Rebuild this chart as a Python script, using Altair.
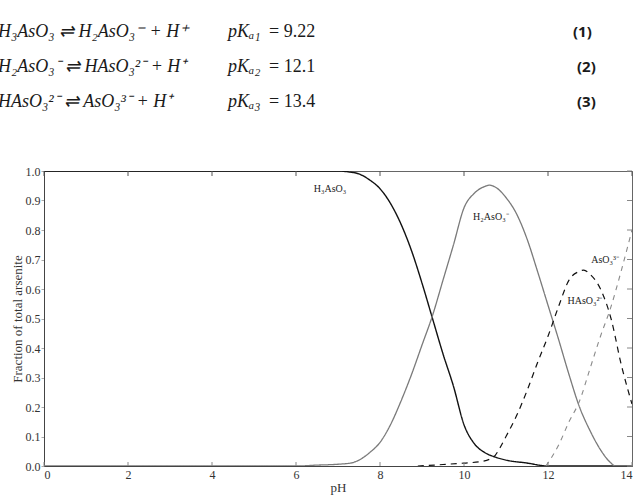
import altair as alt
import pandas as pd

# ---- data ----
h3_ph = [0, 2, 4, 6, 7.0, 7.25, 7.5, 7.75, 8.0, 8.25, 8.5, 8.75, 9.0, 9.25, 9.5, 9.75,
         10.0, 10.25, 10.5, 10.75, 11.0, 11.5, 12.0, 14.0]
h3_f = [1.0, 1.0, 1.0, 1.0, 1.0, 0.997, 0.99, 0.97, 0.94, 0.89, 0.82, 0.73, 0.62, 0.50,
        0.38, 0.27, 0.14, 0.075, 0.045, 0.03, 0.02, 0.01, 0.0, 0.0]

h2_ph = [0, 6.0, 6.5, 7.0, 7.3, 7.5, 7.75, 8.0, 8.25, 8.5, 8.75, 9.0, 9.25, 9.5, 9.75,
         10.0, 10.25, 10.5, 10.6, 10.75, 11.0, 11.25, 11.5, 11.75, 12.0, 12.25, 12.5,
         12.75, 13.0, 13.25, 13.5, 13.6, 14.0]
h2_f = [0, 0, 0.003, 0.006, 0.01, 0.02, 0.045, 0.08, 0.14, 0.22, 0.31, 0.41, 0.51, 0.63,
        0.75, 0.875, 0.925, 0.948, 0.952, 0.945, 0.91, 0.855, 0.77, 0.66, 0.545, 0.43,
        0.31, 0.2, 0.12, 0.055, 0.01, 0.0, 0.0]

has_ph = [8.9, 9.5, 10.0, 10.4, 10.7, 10.85, 11.0, 11.25, 11.5, 11.75, 12.0, 12.25, 12.5,
          12.75, 12.85, 13.0, 13.25, 13.5, 13.75, 14.0]
has_f = [0.0, 0.005, 0.01, 0.015, 0.03, 0.06, 0.10, 0.17, 0.255, 0.35, 0.44, 0.54, 0.63,
         0.66, 0.664, 0.65, 0.60, 0.50, 0.34, 0.21]

aso_ph = [11.95, 12.25, 12.5, 12.75, 13.0, 13.25, 13.5, 13.75, 14.0]
aso_f = [0.0, 0.07, 0.15, 0.22, 0.33, 0.44, 0.54, 0.665, 0.80]

series_names = ["H3AsO3", "H2AsO3-", "HAsO3 2-", "AsO3 3-"]
series_colors = ["#111111", "#7a7a7a", "#111111", "#8a8a8a"]
series_dash = [[1, 0], [1, 0], [6, 5], [5, 5]]
series_width = [1.4, 1.1, 2.0, 1.4]

label_text = ["H₃AsO₃", "H₂AsO₃⁻", "HAsO₃²⁻", "AsO₃³⁻"]
label_ph = [6.81, 10.64, 12.88, 13.36]
label_f = [0.94, 0.845, 0.56, 0.70]

x_ticks = [0, 2, 4, 6, 8, 10, 12, 14]
y_ticks = [0.0, 0.1, 0.2, 0.3, 0.4, 0.5, 0.6, 0.7, 0.8, 0.9, 1.0]

eq_lines = ["H₃AsO₃ ⇌ H₂AsO₃⁻ + H⁺", "H₂AsO₃⁻ ⇌ HAsO₃²⁻ + H⁺", "HAsO₃²⁻ ⇌ AsO₃³⁻ + H⁺"]
pka_names = ["pKₐ₁", "pKₐ₂", "pKₐ₃"]
pka_values = ["= 9.22", "= 12.1", "= 13.4"]
eq_numbers = ["(1)", "(2)", "(3)"]

# ---- build table ----
rows = []
for name, phs, fs in [(series_names[0], h3_ph, h3_f), (series_names[1], h2_ph, h2_f),
                      (series_names[2], has_ph, has_f), (series_names[3], aso_ph, aso_f)]:
    for p, f in zip(phs, fs):
        rows.append({"species": name, "pH": p, "frac": f})
df = pd.DataFrame(rows)

labels_df = pd.DataFrame({"text": label_text, "pH": label_ph, "frac": label_f})
xt_df = pd.DataFrame({"pH": x_ticks})
yt_df = pd.DataFrame({"frac": y_ticks})

W, H = 588, 295
SERIF = "Liberation Serif"

xscale = alt.Scale(domain=[0, 14], nice=False, zero=False)
yscale = alt.Scale(domain=[0, 1], nice=False)

x_axis = alt.Axis(values=x_ticks, format="d", title="pH", ticks=False, grid=False,
                  labelFont=SERIF, labelFontSize=12, labelColor="#333", labelPadding=3,
                  labelOverlap=False,
                  titleFont=SERIF, titleFontSize=13, titleFontWeight="normal",
                  titleColor="#333", titlePadding=1, domainColor="#444")
y_axis = alt.Axis(values=y_ticks, format=".1f", title="Fraction of total arsenite",
                  grid=False, tickSize=3, tickColor="#aaa", labelOverlap=False,
                  labelFont=SERIF, labelFontSize=12, labelColor="#333", labelPadding=1,
                  titleFont=SERIF, titleFontSize=13, titleFontWeight="normal",
                  titleColor="#333", titlePadding=1, domainColor="#444")


def X(field="pH:Q"):
    return alt.X(field, scale=xscale, axis=x_axis)


def Y(field="frac:Q"):
    return alt.Y(field, scale=yscale, axis=y_axis)


lines = alt.Chart(df).mark_line(interpolate="monotone", clip=True).encode(
    x=X(), y=Y(),
    color=alt.Color("species:N", scale=alt.Scale(domain=series_names, range=series_colors), legend=None),
    strokeDash=alt.StrokeDash("species:N", scale=alt.Scale(domain=series_names, range=series_dash), legend=None),
    strokeWidth=alt.StrokeWidth("species:N", scale=alt.Scale(domain=series_names, range=series_width), legend=None),
    detail="species:N",
)

labels = alt.Chart(labels_df).mark_text(font=SERIF, fontSize=10, color="#222").encode(
    x=X(), y=Y(), text="text:N")

right_ticks = alt.Chart(yt_df).mark_rule(color="#888", strokeWidth=1).encode(
    y=Y(), x=alt.value(W - 5), x2=alt.value(W))
top_ticks = alt.Chart(xt_df).mark_rule(color="#555", strokeWidth=1).encode(
    x=X(), y=alt.value(0), y2=alt.value(5))
bottom_ticks = alt.Chart(xt_df).mark_rule(color="#888", strokeWidth=1).encode(
    x=X(), y=alt.value(H - 4), y2=alt.value(H))


def one_text(txt, x, y, **kw):
    return alt.Chart(pd.DataFrame({"t": [txt]})).mark_text(
        align="left", baseline="middle", color="#1a1a1a", **kw).encode(
        text="t:N", x=alt.value(x), y=alt.value(y))


eq_layers = []
line_y = [-139, -104, -69]
for i in range(3):
    eq_layers.append(one_text(eq_lines[i], -46, line_y[i], font=SERIF, fontStyle="italic", fontSize=18))
    eq_layers.append(one_text(pka_names[i], 184, line_y[i], font=SERIF, fontStyle="italic", fontSize=18))
    eq_layers.append(one_text(pka_values[i], 225, line_y[i], font=SERIF, fontSize=18))
    eq_layers.append(one_text(eq_numbers[i], 529 + (4 if i else 0), line_y[i],
                              font="Open Sans", fontWeight="bold", fontSize=15))

chart = alt.layer(lines, labels, right_ticks, top_ticks, bottom_ticks, *eq_layers).properties(
    width=W, height=H,
    autosize=alt.AutoSizeParams(type="none"),
    padding={"left": 44, "top": 171, "right": 12, "bottom": 32},
    background="white",
).configure_view(stroke="#666", strokeWidth=1)

chart.save("out.html", embed_options={"renderer": "svg", "actions": False})
